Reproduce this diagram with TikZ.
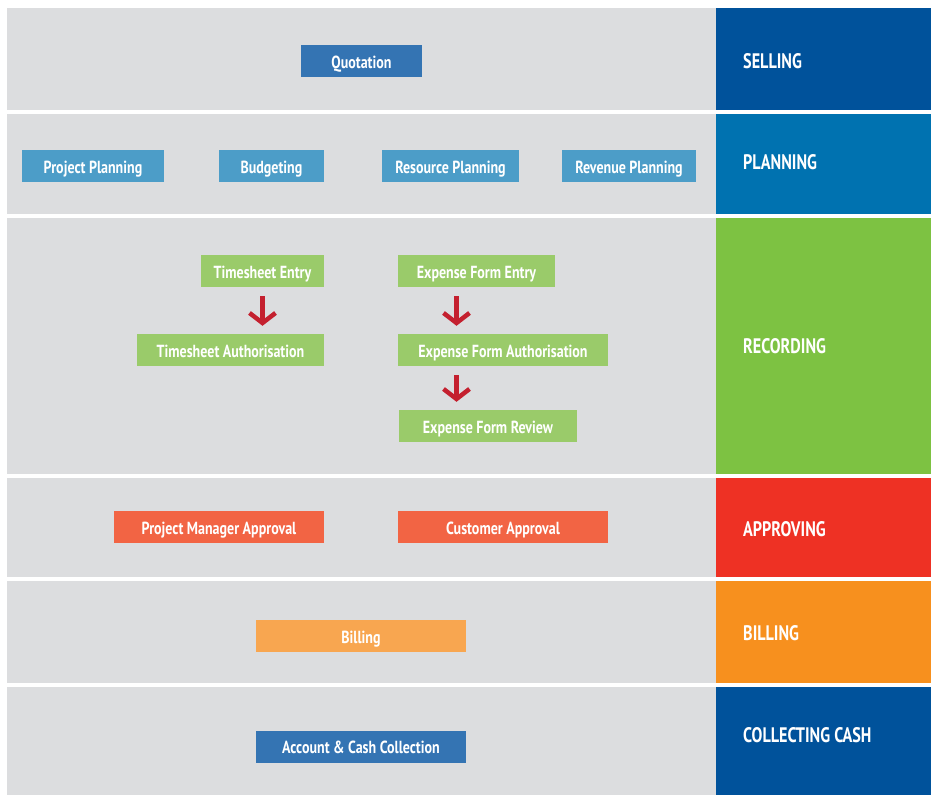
\documentclass[tikz,border=0pt]{standalone}
\usepackage{fontspec}
\usetikzlibrary{arrows.meta}
\newfontfamily\boxfont[FakeStretch=0.8]{PT Sans}
\newfontfamily\labfont[FakeStretch=0.77]{PT Sans}
\definecolor{panel}{HTML}{DCDDDF}
\definecolor{cSell}{HTML}{00529B}
\definecolor{cPlan}{HTML}{0072B0}
\definecolor{cRec}{HTML}{7DC242}
\definecolor{cApp}{HTML}{EE3124}
\definecolor{cBill}{HTML}{F7901E}
\definecolor{bBlue}{HTML}{3474B3}
\definecolor{bLight}{HTML}{4C9DC8}
\definecolor{bGreen}{HTML}{9ACB6A}
\definecolor{bRed}{HTML}{F26444}
\definecolor{bOrange}{HTML}{F8A650}
\definecolor{arrRed}{HTML}{C4202F}
\tikzset{
  stagebox/.style={draw=none, inner sep=0pt, minimum height=32pt, text=white,
    text height=14pt, text depth=0pt,
    font=\boxfont\bfseries\fontsize{17.5}{19}\selectfont},
  stagelabel/.style={anchor=west, inner sep=0pt, text=white,
    text height=14.7pt, text depth=0pt,
    font=\labfont\bfseries\fontsize{21}{24}\selectfont},
  flowarrow/.style={draw=arrRed, line width=4.5pt,
    -{Straight Barb[length=10pt, width=26pt]}, shorten <=9pt, shorten >=8pt}
}
\begin{document}
\begin{tikzpicture}[x=1pt, y=-1pt]
\useasboundingbox (0,0) rectangle (931,795);
\fill[white] (0,0) rectangle (931,795);
% grey panels
\fill[panel] (7,8) rectangle (716,110);
\fill[panel] (7,114) rectangle (716,214);
\fill[panel] (7,218) rectangle (716,474);
\fill[panel] (7,478) rectangle (716,577);
\fill[panel] (7,581) rectangle (716,683);
\fill[panel] (7,687) rectangle (716,795);
% coloured stage bars
\fill[cSell] (716,8) rectangle (931,110);
\fill[cPlan] (716,114) rectangle (931,214);
\fill[cRec] (716,218) rectangle (931,474);
\fill[cApp] (716,478) rectangle (931,577);
\fill[cBill] (716,581) rectangle (931,683);
\fill[cSell] (716,687) rectangle (931,795);
% stage labels
\node[stagelabel] (lsell) at (743,61) {SELLING};
\node[stagelabel] (lplan) at (743,162.5) {PLANNING};
\node[stagelabel] (lrec) at (743,346) {RECORDING};
\node[stagelabel] (lapp) at (743,529) {APPROVING};
\node[stagelabel] (lbill) at (743,633) {BILLING};
\node[stagelabel] (lcash) at (743,735.5) {COLLECTING CASH};
% boxes
\node[stagebox, fill=bBlue, minimum width=121pt] (quot) at (361.5,61) {Quotation};
\node[stagebox, fill=bLight, minimum width=142pt] (pp) at (93,166) {Project Planning};
\node[stagebox, fill=bLight, minimum width=105pt] (bud) at (271.5,166) {Budgeting};
\node[stagebox, fill=bLight, minimum width=137pt] (res) at (450.5,166) {Resource Planning};
\node[stagebox, fill=bLight, minimum width=134pt] (rev) at (629,166) {Revenue Planning};
\node[stagebox, fill=bGreen, minimum width=123pt] (tse) at (262.5,271) {Timesheet Entry};
\node[stagebox, fill=bGreen, minimum width=187pt] (tsa) at (230.5,350) {Timesheet Authorisation};
\node[stagebox, fill=bGreen, minimum width=157pt] (efe) at (476.5,271) {Expense Form Entry};
\node[stagebox, fill=bGreen, minimum width=210pt] (efa) at (503,350) {Expense Form Authorisation};
\node[stagebox, fill=bGreen, minimum width=178pt] (efr) at (488,426) {Expense Form Review};
\node[stagebox, fill=bRed, minimum width=210pt] (pma) at (219,527) {Project Manager Approval};
\node[stagebox, fill=bRed, minimum width=210pt] (cua) at (503,527) {Customer Approval};
\node[stagebox, fill=bOrange, minimum width=210pt] (bil) at (361,636) {Billing};
\node[stagebox, fill=bBlue, minimum width=210pt] (acc) at (361,746.5) {Account \& Cash Collection};
% arrows
\draw[flowarrow] (tse.south) -- (tse.south |- tsa.north);
\draw[flowarrow] ([xshift=-20pt]efe.south) -- ([xshift=-20pt]efe.south |- efa.north);
\draw[flowarrow] ([xshift=-46.5pt]efa.south) -- ([xshift=-46.5pt]efa.south |- efr.north);
\end{tikzpicture}
\end{document}
